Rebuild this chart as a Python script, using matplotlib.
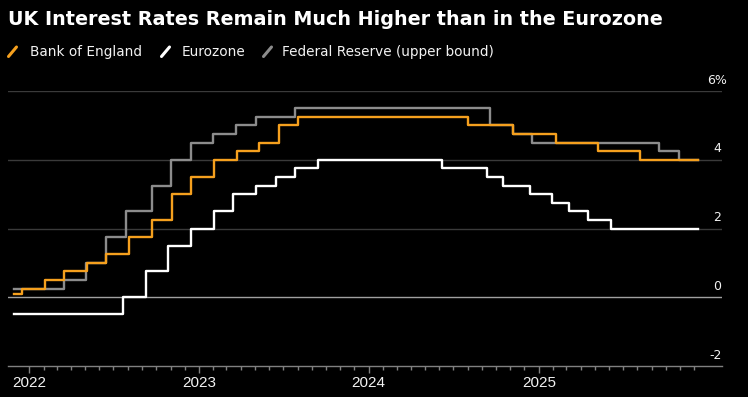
import matplotlib
matplotlib.use("Agg")
import matplotlib.pyplot as plt
import matplotlib.dates as mdates
from matplotlib.lines import Line2D
import numpy as np

# ---------------- data ----------------
title = "UK Interest Rates Remain Much Higher than in the Eurozone"
series_names = ["Bank of England", "Eurozone", "Federal Reserve (upper bound)"]

start_date = "2021-11-30"
end_date = "2025-12-09"

boe_dates = [start_date, "2021-12-16", "2022-02-03", "2022-03-17", "2022-05-05", "2022-06-16",
             "2022-08-04", "2022-09-22", "2022-11-03", "2022-12-15", "2023-02-02", "2023-03-23",
             "2023-05-11", "2023-06-22", "2023-08-03", "2024-08-01", "2024-11-07", "2025-02-06",
             "2025-05-08", "2025-08-07"]
boe_rates = [0.10, 0.25, 0.50, 0.75, 1.00, 1.25, 1.75, 2.25, 3.00, 3.50, 4.00, 4.25,
             4.50, 5.00, 5.25, 5.00, 4.75, 4.50, 4.25, 4.00]

ecb_dates = [start_date, "2022-07-21", "2022-09-08", "2022-10-27", "2022-12-15", "2023-02-02",
             "2023-03-16", "2023-05-04", "2023-06-15", "2023-07-27", "2023-09-14", "2024-06-06",
             "2024-09-12", "2024-10-17", "2024-12-12", "2025-01-30", "2025-03-06", "2025-04-17",
             "2025-06-05"]
ecb_rates = [-0.50, 0.00, 0.75, 1.50, 2.00, 2.50, 3.00, 3.25, 3.50, 3.75, 4.00, 3.75,
             3.50, 3.25, 3.00, 2.75, 2.50, 2.25, 2.00]

fed_dates = [start_date, "2022-03-16", "2022-05-04", "2022-06-15", "2022-07-27", "2022-09-21",
             "2022-11-02", "2022-12-14", "2023-02-01", "2023-03-22", "2023-05-03", "2023-07-26",
             "2024-09-18", "2024-11-07", "2024-12-18", "2025-09-17", "2025-10-29"]
fed_rates = [0.25, 0.50, 1.00, 1.75, 2.50, 3.25, 4.00, 4.50, 4.75, 5.00, 5.25, 5.50,
             5.00, 4.75, 4.50, 4.25, 4.00]

y_ticks = [-2, 0, 2, 4, 6]
y_tick_labels = ["-2", "0", "2", "4", "6%"]
x_tick_years = [2022, 2023, 2024, 2025]
x_tick_labels = ["2022", "2023", "2024", "2025"]

# ---------------- style ----------------
BG = "#000000"
ORANGE = "#F5A01E"
WHITE = "#FFFFFF"
GRAY = "#8C8C8C"
GRID = "#3A3A3A"
ZERO = "#A0A0A0"
TEXT = "#F2F2F2"

W, H = 748, 397
fig = plt.figure(figsize=(W / 100, H / 100), dpi=100, facecolor=BG)

def px(x, y):
    return x / W, 1 - y / H

left_px, right_px, top_px, bot_px = 7.5, 721.5, 91, 366
ax = fig.add_axes([left_px / W, 1 - bot_px / H, (right_px - left_px) / W, (bot_px - top_px) / H])
ax.set_facecolor(BG)

def to_num(dlist):
    return mdates.date2num([np.datetime64(d) for d in dlist])

def series(dates, rates):
    x = list(to_num(dates)) + [to_num([end_date])[0]]
    y = list(rates) + [rates[-1]]
    return x, y

x_fed, y_fed = series(fed_dates, fed_rates)
x_ecb, y_ecb = series(ecb_dates, ecb_rates)
x_boe, y_boe = series(boe_dates, boe_rates)

# grid
for v in y_ticks[1:]:
    if v == 0:
        ax.axhline(v, color=ZERO, lw=1.0, zorder=1)
    else:
        ax.axhline(v, color=GRID, lw=1.0, zorder=1)

ax.step(x_fed, y_fed, where="post", color=GRAY, lw=1.7, zorder=3)
ax.step(x_ecb, y_ecb, where="post", color=WHITE, lw=1.7, zorder=4)
ax.step(x_boe, y_boe, where="post", color=ORANGE, lw=1.7, zorder=5)

# x limits via pixel mapping (2022-01-01 at px 29.3, 0.4649 px/day)
ref = mdates.date2num(np.datetime64("2022-01-01"))
ppd = 0.4649
ax.set_xlim(ref - (29.3 - left_px) / ppd, ref + (right_px - 29.3) / ppd)
ax.set_ylim(-2, 6)

for s in ["left", "right", "top"]:
    ax.spines[s].set_visible(False)
ax.spines["bottom"].set_color("#808080")
ax.spines["bottom"].set_linewidth(1.0)

major = to_num([f"{y}-01-01" for y in x_tick_years])
ax.set_xticks(major)
ax.set_xticklabels(x_tick_labels)
minor = to_num([f"{y}-{m:02d}-01" for y in x_tick_years for m in range(1, 13) if m != 1])
ax.set_xticks(minor, minor=True)
ax.tick_params(axis="x", which="major", length=5, width=1, color="#808080", pad=2.5,
               labelcolor=TEXT, labelsize=11)
ax.tick_params(axis="x", which="minor", length=3, width=1, color="#808080")
for lab in ax.get_xticklabels():
    lab.set_family("Liberation Sans")
ax.set_yticks([])

for v, lab in zip(y_ticks, y_tick_labels):
    dx = 6 if lab.endswith("%") else 0
    ax.annotate(lab, xy=(1, v), xycoords=("axes fraction", "data"),
                xytext=(dx * 0.72, 5.3), textcoords="offset points",
                ha="right", va="baseline", color=TEXT, fontsize=9,
                family="DejaVu Sans", annotation_clip=False)

# title
fig.text(*px(8, 25), title, color=WHITE, fontsize=13.8, fontweight="bold",
         family="DejaVu Sans", ha="left", va="baseline")

# legend
legend_items = [
    (ORANGE, 8.5, 30),
    (WHITE, 161.5, 182),
    (GRAY, 263.5, 281.5),
]
for (col, sx, tx), name in zip(legend_items, series_names):
    x0, y0 = px(sx, 56.5)
    x1, y1 = px(sx + 8, 47)
    fig.add_artist(Line2D([x0, x1], [y0, y1], color=col, lw=2.2,
                          solid_capstyle="round", transform=fig.transFigure))
    fig.text(*px(tx, 56), name, color=TEXT, fontsize=9.8, family="DejaVu Sans",
             ha="left", va="baseline")

fig.savefig("out.png", dpi=100, facecolor=BG)
